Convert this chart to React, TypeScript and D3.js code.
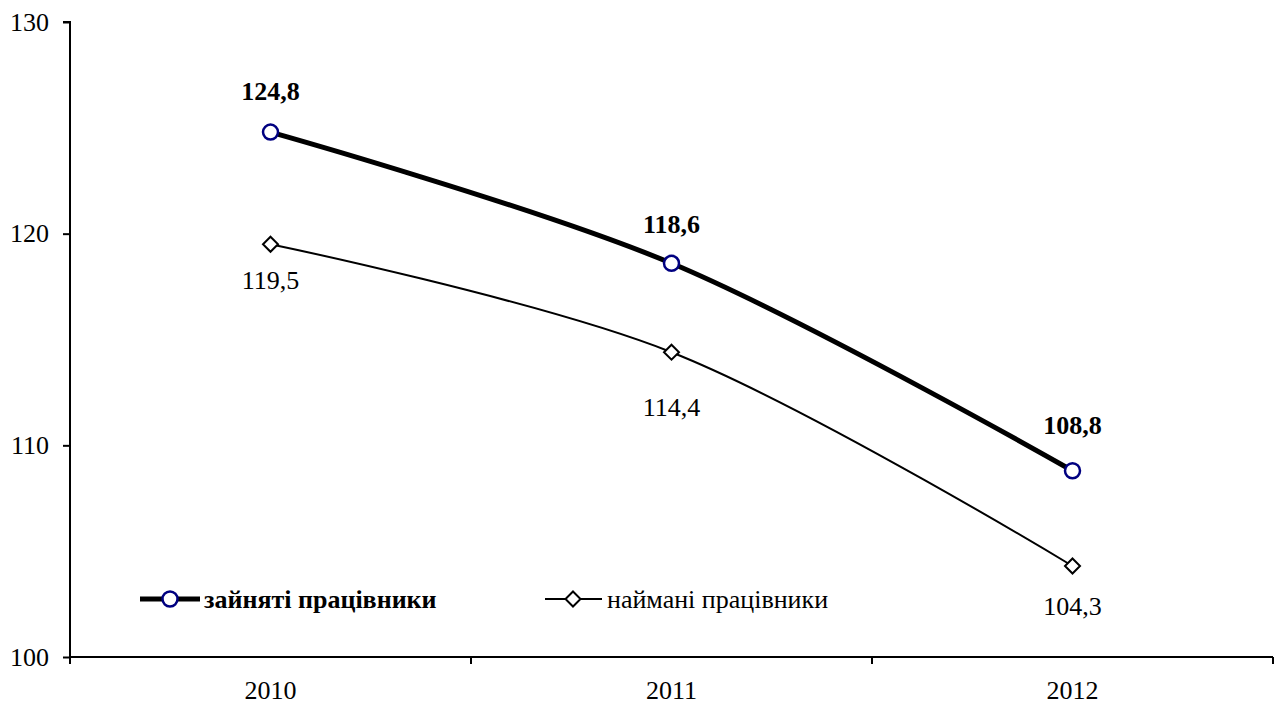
import { useEffect, useRef } from "react";
import * as d3 from "d3";

const years = ["2010", "2011", "2012"];
const employed = [124.8, 118.6, 108.8];
const hired = [119.5, 114.4, 104.3];
const yTicks = [100, 110, 120, 130];
const employedName = "зайняті працівники";
const hiredName = "наймані працівники";

const fmt = (v: number) => v.toFixed(1).replace(".", ",");

export default function App() {
  const svgRef = useRef<SVGSVGElement>(null);
  const width = 1277;
  const height = 707;
  const m = { top: 22, right: 4, bottom: 50, left: 70 };

  useEffect(() => {
    document.body.style.margin = "0";
    const svg = d3.select(svgRef.current);
    svg.selectAll("*").remove();

    const font = "Liberation Serif, Times New Roman, serif";
    const fs = 26;
    // label offsets from the marker, as placed in the original
    const empDy = [-32, -30, -37];
    const hirDy = [45, 64, 49];

    const x = d3.scaleBand().domain(years).range([m.left, width - m.right]);
    const y = d3.scaleLinear().domain([100, 130]).range([height - m.bottom, m.top]);
    const cx = (d: string) => (x(d) as number) + x.bandwidth() / 2;

    // y axis
    const ya = svg.append("g").attr("transform", `translate(${m.left},0)`)
      .call(d3.axisLeft(y).tickValues(yTicks).tickSize(7).tickPadding(14).tickFormat(d3.format("d")));
    ya.attr("font-family", font).attr("font-size", fs);
    ya.select(".domain").attr("stroke", "#000").attr("stroke-width", 2).attr("d", `M-7,${y(130)}H0V${y(100)}`);
    ya.selectAll(".tick line").attr("stroke", "#000").attr("stroke-width", 2);
    ya.selectAll("text").attr("fill", "#000");

    // x axis
    const xa = svg.append("g").attr("transform", `translate(0,${y(100)})`)
      .attr("font-family", font).attr("font-size", fs);
    xa.append("line").attr("x1", m.left).attr("x2", width - m.right)
      .attr("stroke", "#000").attr("stroke-width", 2);
    const bounds = [...years.map((d) => x(d) as number), width - m.right];
    xa.selectAll("line.t").data(bounds).enter().append("line").attr("class", "t")
      .attr("x1", (d) => d).attr("x2", (d) => d).attr("y1", 0).attr("y2", 7)
      .attr("stroke", "#000").attr("stroke-width", 2);
    xa.selectAll("text").data(years).enter().append("text")
      .attr("x", cx).attr("y", 42).attr("text-anchor", "middle").text((d) => d);

    const line = d3.line<number>()
      .x((_, i) => cx(years[i]))
      .y((d) => y(d))
      .curve(d3.curveCatmullRom.alpha(0.5));

    svg.append("path").datum(hired).attr("fill", "none").attr("stroke", "#000")
      .attr("stroke-width", 2).attr("d", line);
    svg.append("path").datum(employed).attr("fill", "none").attr("stroke", "#000")
      .attr("stroke-width", 5).attr("d", line);

    const diamond = (px: number, py: number, r: number) =>
      `M${px},${py - r}L${px + r},${py}L${px},${py + r}L${px - r},${py}Z`;

    svg.selectAll("path.dm").data(hired).enter().append("path").attr("class", "dm")
      .attr("d", (d, i) => diamond(cx(years[i]), y(d), 7.5))
      .attr("fill", "#fff").attr("stroke", "#000").attr("stroke-width", 2);
    svg.selectAll("circle.ci").data(employed).enter().append("circle").attr("class", "ci")
      .attr("cx", (_, i) => cx(years[i])).attr("cy", (d) => y(d)).attr("r", 7.5)
      .attr("fill", "#fff").attr("stroke", "#000080").attr("stroke-width", 2.5);

    const labels = svg.append("g").attr("font-family", font).attr("font-size", fs)
      .attr("text-anchor", "middle");
    labels.selectAll("text.le").data(employed).enter().append("text").attr("class", "le")
      .attr("x", (_, i) => cx(years[i])).attr("y", (d, i) => y(d) + empDy[i])
      .attr("font-weight", "bold").text((d) => fmt(d));
    labels.selectAll("text.lh").data(hired).enter().append("text").attr("class", "lh")
      .attr("x", (_, i) => cx(years[i])).attr("y", (d, i) => y(d) + hirDy[i])
      .text((d) => fmt(d));

    // legend
    const ly = 599;
    const lg = svg.append("g").attr("font-family", font).attr("font-size", fs);
    lg.append("line").attr("x1", 140).attr("x2", 200).attr("y1", ly).attr("y2", ly)
      .attr("stroke", "#000").attr("stroke-width", 5);
    lg.append("circle").attr("cx", 170).attr("cy", ly).attr("r", 7.5)
      .attr("fill", "#fff").attr("stroke", "#000080").attr("stroke-width", 2.5);
    lg.append("text").attr("x", 204).attr("y", ly + 9)
      .attr("font-weight", "bold").text(employedName);

    lg.append("line").attr("x1", 545).attr("x2", 602).attr("y1", ly).attr("y2", ly)
      .attr("stroke", "#000").attr("stroke-width", 2);
    lg.append("path").attr("d", diamond(573, ly, 7.5))
      .attr("fill", "#fff").attr("stroke", "#000").attr("stroke-width", 2);
    lg.append("text").attr("x", 607).attr("y", ly + 9).text(hiredName);
  }, []);

  return (
    <svg ref={svgRef} width={width} height={height}
      style={{ display: "block", background: "#fff" }} />
  );
}
